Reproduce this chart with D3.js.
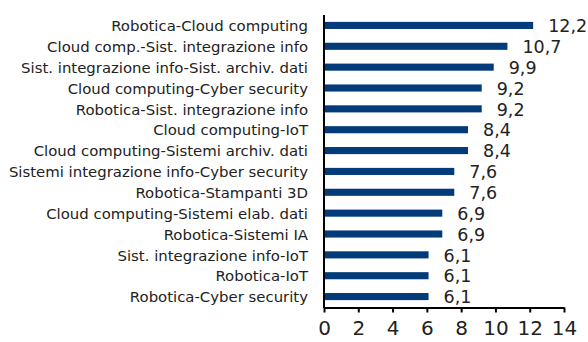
<!DOCTYPE html>
<html lang="it">
<head>
<meta charset="utf-8">
<title>Coppie di tecnologie</title>
<script src="https://d3js.org/d3.v7.min.js"></script>
<style>
  body { margin: 0; background: #fff; font-family: "DejaVu Sans", sans-serif; }
</style>
</head>
<body>
<div class="chart"></div>
<script>
const categories = [
  "Robotica-Cloud computing",
  "Cloud comp.-Sist. integrazione info",
  "Sist. integrazione info-Sist. archiv. dati",
  "Cloud computing-Cyber security",
  "Robotica-Sist. integrazione info",
  "Cloud computing-IoT",
  "Cloud computing-Sistemi archiv. dati",
  "Sistemi integrazione info-Cyber security",
  "Robotica-Stampanti 3D",
  "Cloud computing-Sistemi elab. dati",
  "Robotica-Sistemi IA",
  "Sist. integrazione info-IoT",
  "Robotica-IoT",
  "Robotica-Cyber security"
];
const values = [12.2, 10.7, 9.9, 9.2, 9.2, 8.4, 8.4, 7.6, 7.6, 6.9, 6.9, 6.1, 6.1, 6.1];
const xTicks = [0, 2, 4, 6, 8, 10, 12, 14];

const width = 588, height = 342;
const margin = {top: 15, right: 24, bottom: 35, left: 324};

const svg = d3.select(".chart").append("svg")
  .attr("width", width)
  .attr("height", height);

const x = d3.scaleLinear().domain([0, 14]).range([margin.left, width - margin.right]);
const y = d3.scaleBand().domain(categories).range([margin.top, height - margin.bottom]).paddingInner(0.66).paddingOuter(0.33);

const fmt = v => d3.format(".1f")(v).replace(".", ",");

// bars
svg.selectAll("rect.bar")
  .data(values)
  .enter()
  .append("rect")
  .attr("class", "bar")
  .attr("x", x(0))
  .attr("y", (d, i) => y(categories[i]))
  .attr("width", d => x(d) - x(0))
  .attr("height", y.bandwidth())
  .attr("fill", "#033a7a");

// value labels
svg.selectAll("text.val")
  .data(values)
  .enter()
  .append("text")
  .attr("class", "val")
  .attr("x", d => x(d) + 15)
  .attr("y", (d, i) => y(categories[i]) + y.bandwidth() / 2)
  .attr("dy", "0.38em")
  .attr("font-size", 17.5)
  .attr("fill", "#222")
  .text(fmt);

// category labels
svg.selectAll("text.cat")
  .data(categories)
  .enter()
  .append("text")
  .attr("class", "cat")
  .attr("x", margin.left - 16)
  .attr("y", d => y(d) + y.bandwidth() / 2)
  .attr("dy", "0.38em")
  .attr("text-anchor", "end")
  .attr("font-size", 14.9)
  .attr("fill", "#222")
  .text(d => d);

// x axis
const xAxis = svg.append("g")
  .attr("transform", `translate(0,${height - margin.bottom + 0.5})`)
  .call(d3.axisBottom(x).tickValues(xTicks).tickSize(5).tickPadding(8).tickSizeOuter(0));
xAxis.select(".domain").attr("stroke", "#000").attr("stroke-width", 2);
xAxis.selectAll(".tick line").attr("stroke", "#000").attr("stroke-width", 2);
xAxis.selectAll(".tick text").attr("font-size", 20).attr("fill", "#222").attr("font-family", "DejaVu Sans, sans-serif");

// y axis line
svg.append("line")
  .attr("x1", x(0)).attr("x2", x(0))
  .attr("y1", margin.top).attr("y2", height - margin.bottom + 1)
  .attr("stroke", "#000")
  .attr("stroke-width", 2);
</script>
</body>
</html>
